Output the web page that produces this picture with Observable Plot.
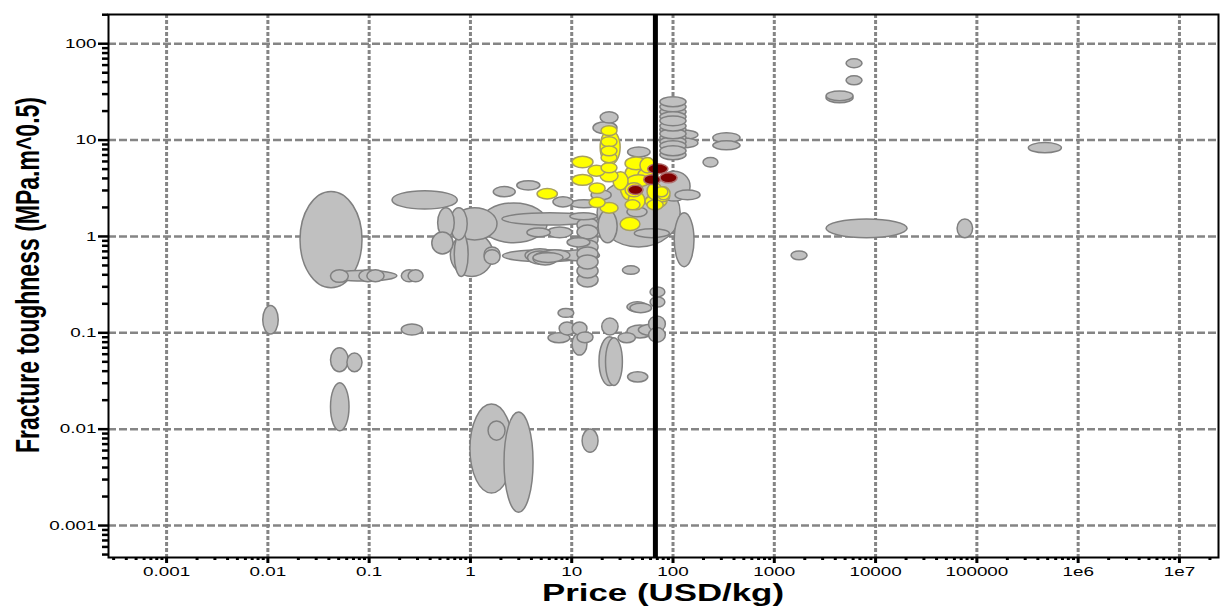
<!DOCTYPE html>
<html>
<head>
<meta charset="utf-8">
<script src="https://cdn.jsdelivr.net/npm/d3@7"></script>
<script src="https://cdn.jsdelivr.net/npm/@observablehq/plot@0.6"></script>
<style>
  body { margin: 0; background: #fff; }
  #chart svg { display: block; }
</style>
</head>
<body>
<div id="chart"></div>
<script>
// ---- Data: each row = [price low, price high, toughness low, toughness high] ----
const grayRanges = [
  [0.021, 0.086, 0.29, 2.9],
  [0.042, 0.063, 0.33, 0.445],
  [0.042, 0.19, 0.34, 0.44],
  [0.080, 0.121, 0.335, 0.445],
  [0.096, 0.142, 0.335, 0.445],
  [0.21, 0.30, 0.335, 0.445],
  [0.245, 0.345, 0.335, 0.445],
  [0.009, 0.0128, 0.096, 0.19],
  [0.042, 0.063, 0.039, 0.069],
  [0.061, 0.086, 0.039, 0.061],
  [0.042, 0.064, 0.0095, 0.030],
  [0.21, 0.34, 0.094, 0.122],
  [0.17, 0.75, 1.9, 2.95],
  [0.48, 0.70, 0.96, 1.96],
  [0.64, 0.94, 0.91, 1.96],
  [0.67, 1.85, 0.91, 1.96],
  [0.42, 0.68, 0.65, 1.10],
  [0.64, 1.69, 0.38, 1.08],
  [0.70, 0.96, 0.38, 1.10],
  [1.38, 1.98, 0.54, 0.77],
  [1.38, 1.98, 0.51, 0.72],
  [1.26, 5.8, 0.85, 2.2],
  [2.07, 18.4, 1.3, 1.74],
  [1.7, 2.8, 2.55, 3.25],
  [2.9, 4.9, 3.0, 3.75],
  [2.1, 13.7, 0.54, 0.72],
  [3.5, 6.9, 0.54, 0.735],
  [3.7, 6.45, 0.51, 0.70],
  [4.2, 7.3, 0.50, 0.68],
  [4.9, 9.7, 0.55, 0.72],
  [7.8, 19, 0.55, 0.72],
  [4.2, 8.3, 0.53, 0.67],
  [3.65, 6.2, 0.98, 1.21],
  [5.8, 10.2, 0.96, 1.24],
  [9.7, 18, 1.47, 1.74],
  [9.7, 18.4, 1.96, 2.37],
  [9.1, 15.3, 0.77, 0.96],
  [11.4, 18.4, 1.10, 1.54],
  [11.4, 18.4, 0.93, 1.30],
  [11.4, 18.4, 0.77, 1.08],
  [11.4, 18.4, 0.65, 0.91],
  [11.4, 18.4, 0.55, 0.77],
  [11.4, 18.4, 0.455, 0.636],
  [11.4, 18.4, 0.367, 0.513],
  [11.4, 18.4, 0.296, 0.414],
  [18, 119, 0.77, 4.0],
  [18.4, 28.4, 0.85, 1.87],
  [42, 93, 0.96, 1.19],
  [72, 149, 2.3, 4.7],
  [106, 187, 2.37, 3.0],
  [104, 163, 0.48, 1.74],
  [32, 47, 0.40, 0.49],
  [60, 84, 0.233, 0.296],
  [60, 84, 0.183, 0.233],
  [35.5, 57, 0.163, 0.207],
  [38, 62, 0.16, 0.20],
  [7.4, 10.6, 0.143, 0.177],
  [7.6, 10.9, 0.094, 0.128],
  [10.2, 14.3, 0.094, 0.128],
  [5.9, 9.7, 0.078, 0.099],
  [10.2, 14.3, 0.058, 0.099],
  [11.4, 16.4, 0.078, 0.101],
  [20, 29, 0.094, 0.141],
  [18.8, 30.4, 0.028, 0.090],
  [21.8, 32, 0.028, 0.088],
  [29, 43, 0.078, 0.099],
  [35.5, 64, 0.0875, 0.119],
  [46, 81, 0.093, 0.121],
  [58, 85, 0.101, 0.148],
  [58, 85, 0.079, 0.112],
  [36, 57, 0.0305, 0.039],
  [12.8, 18.4, 0.0057, 0.0099],
  [1.0, 2.66, 0.00215, 0.018],
  [1.51, 2.22, 0.0076, 0.012],
  [2.17, 4.2, 0.00136, 0.0149],
  [5170, 7430, 55.7, 69],
  [5170, 7430, 37, 46],
  [3280, 6060, 25.3, 32],
  [3280, 6060, 24.1, 30.6],
  [326000, 691000, 7.3, 9.3],
  [3280, 20700, 0.96, 1.5],
  [64500, 91800, 0.96, 1.5],
  [1480, 2130, 0.565, 0.70],
  [250, 464, 9.26, 11.8],
  [250, 464, 7.84, 9.7],
  [200, 281, 5.2, 6.5],
  [75, 136, 21.9, 27.8],
  [75, 136, 19.4, 24.7],
  [75, 136, 17.2, 21.9],
  [75, 136, 15.3, 19.4],
  [75, 136, 13.9, 17.6],
  [75, 136, 12.3, 15.6],
  [75, 136, 11.2, 14.3],
  [75, 136, 10.2, 12.95],
  [75, 136, 9.26, 11.8],
  [75, 136, 8.4, 10.7],
  [75, 136, 7.65, 9.72],
  [75, 136, 6.79, 8.62],
  [75, 136, 6.17, 7.84],
  [86, 178, 10, 12.6],
  [90, 178, 8.2, 10.4],
  [36, 60, 6.6, 8.4],
  [19.3, 29, 14.9, 19.4],
  [16.4, 28.3, 11.5, 15.3],
  [15.7, 24.8, 2.37, 3.0],
  [6.6, 10.4, 2.0, 2.55],
  [35.5, 56, 1.58, 2.0]
];

const yellowRanges = [
  [19.3, 30.4, 5.5, 12.6],
  [19.7, 28.3, 11, 13.9],
  [19.7, 28.3, 8.4, 10.7],
  [19.7, 28.3, 6.8, 8.6],
  [19.7, 28.3, 5.76, 7.3],
  [19.7, 28.3, 4.52, 5.76],
  [10.2, 16.4, 5.1, 6.7],
  [14.6, 21.6, 4.16, 5.4],
  [10.2, 16.4, 3.35, 4.35],
  [19.3, 29, 3.65, 4.86],
  [15, 21.6, 2.75, 3.55],
  [4.6, 7.3, 2.42, 3.1],
  [15, 21.6, 1.97, 2.52],
  [19.3, 29, 1.72, 2.22],
  [30.4, 47.7, 1.14, 1.56],
  [34, 56, 4.86, 6.6],
  [34, 56, 3.65, 5.47],
  [47.7, 67, 4.5, 6.5],
  [25.9, 36.4, 3.0, 4.63],
  [35.5, 60, 3.24, 4.31],
  [34, 51, 2.55, 3.56],
  [36.4, 53.5, 1.87, 2.88],
  [30.4, 44.7, 2.37, 4.52],
  [56, 79, 2.37, 3.56],
  [67, 90, 2.55, 3.24],
  [67, 94, 2.26, 3.0],
  [56, 81, 1.87, 2.37],
  [34, 47.7, 1.87, 2.37],
  [45.6, 72, 3.65, 5.1],
  [53.5, 88, 1.96, 2.67],
  [70.6, 94.5, 2.37, 3.24]
];

const redRanges = [
  [57, 90, 4.41, 5.6],
  [75, 111, 3.56, 4.52],
  [52, 76, 3.42, 4.31],
  [36.4, 51, 2.7, 3.35]
];

const priceLimit = [67];

const xTickValues = [1e-3, 1e-2, 0.1, 1, 10, 100, 1e3, 1e4, 1e5, 1e6, 1e7];
const xTickLabels = ["0.001", "0.01", "0.1", "1", "10", "100", "1000", "10000", "100000", "1e6", "1e7"];
const yTickValues = [1e-3, 1e-2, 0.1, 1, 10, 100];
const yTickLabels = ["0.001", "0.01", "0.1", "1", "10", "100"];

const xDomain = [0.000267, 2.43e7];
const yDomain = [0.000466, 201];

const xTitle = "Price (USD/kg)";
const yTitle = "Fracture toughness (MPa.m^0.5)";

// ---- Build ----
const isPow10 = v => Math.abs(Math.log10(v) - Math.round(Math.log10(v))) < 1e-9;
const xMinor = d3.scaleLog().domain(xDomain).ticks(60).filter(v => !isPow10(v));
const yMinor = d3.scaleLog().domain(yDomain).ticks(60).filter(v => !isPow10(v));

const toRows = rows => rows
  .map(([x1, x2, y1, y2]) => ({x1, x2, y1, y2, a: Math.log(x2 / x1) * Math.log(y2 / y1)}))
  .sort((p, q) => q.a - p.a);

const ell = (rows, fill, stroke) => Plot.rect(toRows(rows), {
  x1: "x1", x2: "x2", y1: "y1", y2: "y2",
  fill, stroke, strokeWidth: 1.5, rx: 100000, ry: 100000
});

const fmtX = d => xTickLabels[xTickValues.findIndex(v => Math.abs(v / d - 1) < 1e-9)];
const fmtY = d => yTickLabels[yTickValues.findIndex(v => Math.abs(v / d - 1) < 1e-9)];

const chart = Plot.plot({
  width: 1221,
  height: 606,
  marginLeft: 108,
  marginRight: 3,
  marginTop: 14,
  marginBottom: 49,
  x: {type: "log", domain: xDomain, axis: null},
  y: {type: "log", domain: yDomain, axis: null},
  style: {fontFamily: "'Liberation Sans', Arial, sans-serif", fontSize: "13px", color: "black", background: "white"},
  marks: [
    Plot.ruleX(xTickValues, {stroke: "#858585", strokeWidth: 3, strokeDasharray: "4,2"}),
    Plot.ruleY(yTickValues, {stroke: "#858585", strokeWidth: 2.5, strokeDasharray: "8,3"}),
    ell(grayRanges, "#c0c0c0", "#808080"),
    ell(yellowRanges, "#ffff00", "#a8a060"),
    ell(redRanges, "#800000", "#b07070"),
    Plot.ruleX(priceLimit, {stroke: "black", strokeWidth: 5}),
    Plot.frame({stroke: "black", strokeWidth: 2}),
    Plot.axisX(xMinor, {tickSize: 3, strokeWidth: 3, tickFormat: () => "", label: null}),
    Plot.axisX(xTickValues, {tickSize: 6, strokeWidth: 3, tickPadding: 3, tickFormat: fmtX, label: null, fontSize: 13}),
    Plot.axisY(yMinor, {tickSize: 6, strokeWidth: 2.5, tickFormat: () => "", label: null}),
    Plot.axisY(yTickValues, {tickSize: 10, strokeWidth: 2.5, tickPadding: 2, tickFormat: fmtY, label: null, fontSize: 13})
  ]
});

document.getElementById("chart").append(chart);

// horizontally stretched tick labels, as in the reference
const svg = d3.select(chart);
svg.selectAll("text").each(function () {
  const t = this.textContent.trim();
  if (!t) return;
  const len = this.getComputedTextLength();
  this.setAttribute("textLength", (len * 1.45).toFixed(1));
  this.setAttribute("lengthAdjust", "spacingAndGlyphs");
});

// axis titles
svg.append("text")
  .attr("x", 663).attr("y", 601)
  .attr("text-anchor", "middle")
  .attr("font-family", "'Liberation Sans', Arial, sans-serif")
  .attr("font-weight", "bold")
  .attr("font-size", 24)
  .attr("textLength", 242)
  .attr("lengthAdjust", "spacingAndGlyphs")
  .attr("fill", "black")
  .text(xTitle);

svg.append("text")
  .attr("transform", "translate(39,275) scale(1.3,1) rotate(-90)")
  .attr("text-anchor", "middle")
  .attr("font-family", "'Liberation Sans Narrow', 'Liberation Sans', Arial, sans-serif")
  .attr("font-weight", "bold")
  .attr("font-size", 25)
  .attr("textLength", 356)
  .attr("lengthAdjust", "spacingAndGlyphs")
  .attr("fill", "black")
  .text(yTitle);
</script>
</body>
</html>
